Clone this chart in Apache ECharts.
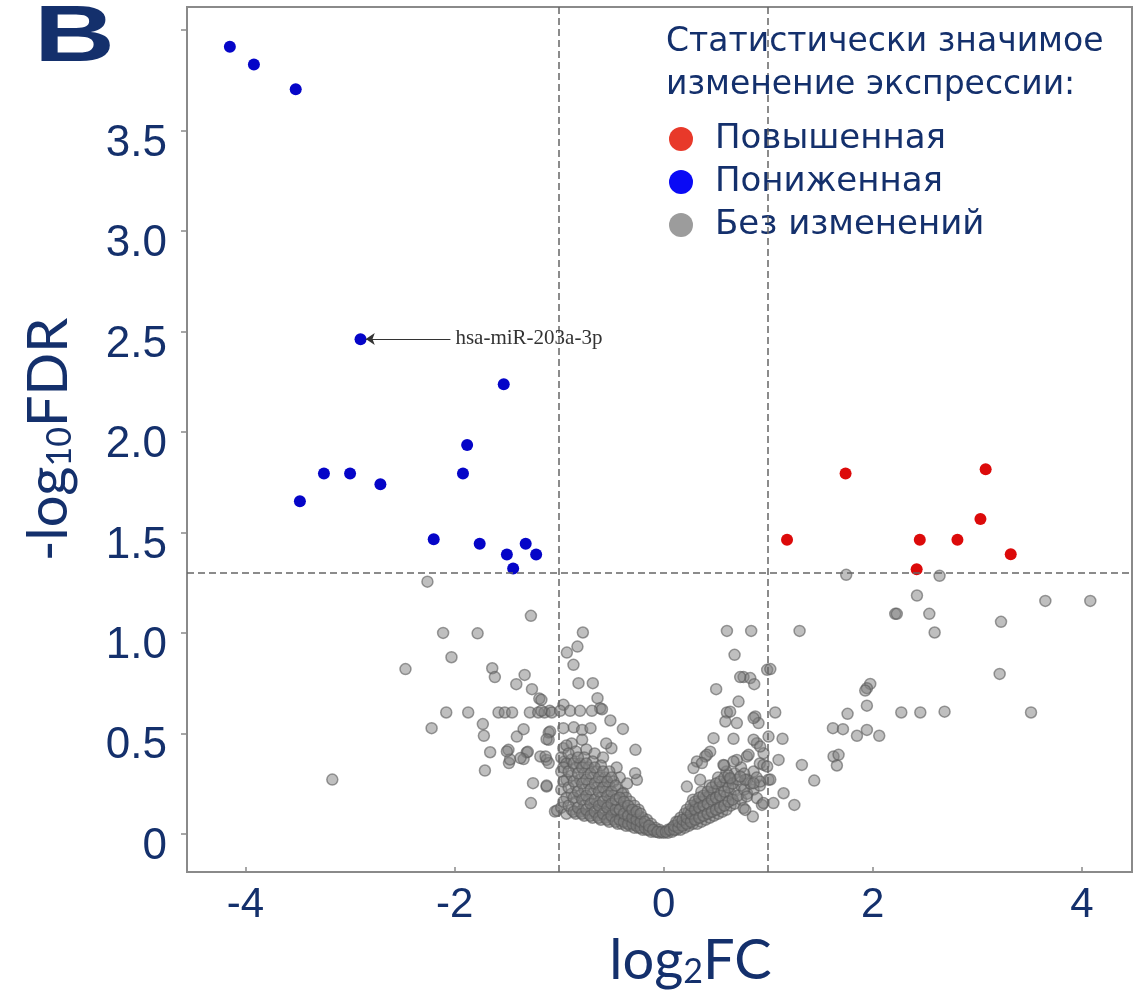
<!DOCTYPE html>
<html>
<head>
<meta charset="utf-8">
<script src="https://cdn.jsdelivr.net/npm/echarts@6/dist/echarts.min.js"></script>
<style>
html, body { margin: 0; padding: 0; background: #fff; }
#main { width: 1146px; height: 1002px; }
</style>
</head>
<body>
<div id="main"></div>
<script>
// [log2FC, -log10FDR]
var upRegulated = [
	[1.74, 1.793], [3.08, 1.814], [3.03, 1.567], [1.18, 1.464], [2.45, 1.464],
	[2.81, 1.464], [3.32, 1.391], [2.42, 1.317]
];
var downRegulated = [
	[-4.15, 3.917], [-3.92, 3.829], [-3.52, 3.706], [-2.90, 2.461], [-1.53, 2.237],
	[-1.88, 1.935], [-3.25, 1.793], [-3.00, 1.793], [-1.92, 1.793], [-2.71, 1.740],
	[-3.48, 1.655], [-2.20, 1.466], [-1.76, 1.444], [-1.32, 1.444], [-1.50, 1.390],
	[-1.22, 1.390], [-1.44, 1.320]
];
var notChanged = [
	// left side, log2FC < -1
	[-3.17, 0.27], [-2.47, 0.82], [-2.26, 1.255], [-2.22, 0.526], [-2.11, 1.0],
	[-2.03, 0.879], [-2.08, 0.604], [-1.87, 0.604], [-1.78, 0.998], [-1.73, 0.546],
	[-1.72, 0.488], [-1.71, 0.315], [-1.66, 0.406], [-1.64, 0.824], [-1.615, 0.78],
	[-1.58, 0.604], [-1.52, 0.604], [-1.45, 0.604], [-1.485, 0.418], [-1.48, 0.352],
	[-1.47, 0.37], [-1.41, 0.745], [-1.405, 0.484], [-1.34, 0.521], [-1.33, 0.791],
	[-1.31, 0.405], [-1.34, 0.372], [-1.30, 0.408], [-1.28, 0.604], [-1.27, 1.085],
	[-1.26, 0.72], [-1.25, 0.252], [-1.27, 0.153], [-1.20, 0.604], [-1.19, 0.673],
	[-1.18, 0.385], [-1.14, 0.604], [-1.12, 0.235], [-1.12, 0.368], [-1.10, 0.468],
	[-1.10, 0.504], [-1.10, 0.352], [-1.09, 0.612], [-1.086, 0.509], [-1.07, 0.604],
	[-1.17, 0.612], [-1.17, 0.667], [-1.13, 0.385], [-1.12, 0.471], [-1.12, 0.24],
	[-1.04, 0.111], [-1.02, 0.116], [-1.37, 0.377], [-1.50, 0.41],
	// -1 .. 0, sparse upper part
	[-0.825, 0.932], [-0.926, 0.902], [-0.773, 1.002], [-0.863, 0.841], [-0.815, 0.75],
	[-0.678, 0.75], [-0.633, 0.675], [-0.959, 0.642], [-0.608, 0.625], [-0.99, 0.612],
	[-0.895, 0.612], [-0.80, 0.612], [-0.687, 0.612], [-0.59, 0.62], [-0.51, 0.564],
	[-0.39, 0.522], [-0.96, 0.526], [-0.86, 0.53], [-0.78, 0.517], [-0.70, 0.526],
	[-0.78, 0.468], [-0.27, 0.418], [-0.50, 0.426], [-0.96, 0.426], [-0.256, 0.269],
	[-0.273, 0.302], [-0.387, 0.204], [-0.95, 0.36], [-0.88, 0.45], [-0.74, 0.42],
	[-0.66, 0.40], [-0.58, 0.38], [-0.55, 0.45], [-0.45, 0.33], [-0.42, 0.28],
	[-0.35, 0.25],
	// -1 .. 0, dense arm
	[-0.98, 0.13], [-0.98, 0.22], [-0.98, 0.31], [-0.98, 0.38],
	[-0.93, 0.10], [-0.93, 0.18], [-0.93, 0.27], [-0.93, 0.35], [-0.93, 0.44],
	[-0.88, 0.12], [-0.88, 0.20], [-0.88, 0.29], [-0.88, 0.37],
	[-0.84, 0.10], [-0.84, 0.16], [-0.84, 0.24], [-0.84, 0.33], [-0.84, 0.41],
	[-0.80, 0.11], [-0.80, 0.19], [-0.80, 0.27], [-0.80, 0.35],
	[-0.76, 0.09], [-0.76, 0.14], [-0.76, 0.22], [-0.76, 0.30], [-0.76, 0.38],
	[-0.72, 0.10], [-0.72, 0.17], [-0.72, 0.25], [-0.72, 0.33],
	[-0.68, 0.08], [-0.68, 0.13], [-0.68, 0.20], [-0.68, 0.28], [-0.68, 0.36],
	[-0.64, 0.09], [-0.64, 0.15], [-0.64, 0.23], [-0.64, 0.31],
	[-0.60, 0.07], [-0.60, 0.12], [-0.60, 0.18], [-0.60, 0.26], [-0.60, 0.34],
	[-0.56, 0.08], [-0.56, 0.14], [-0.56, 0.21], [-0.56, 0.28],
	[-0.52, 0.06], [-0.52, 0.11], [-0.52, 0.17], [-0.52, 0.24], [-0.52, 0.31],
	[-0.48, 0.07], [-0.48, 0.12], [-0.48, 0.19], [-0.48, 0.26],
	[-0.44, 0.05], [-0.44, 0.10], [-0.44, 0.15], [-0.44, 0.22],
	[-0.40, 0.05], [-0.40, 0.09], [-0.40, 0.14], [-0.40, 0.20],
	[-0.36, 0.04], [-0.36, 0.08], [-0.36, 0.13], [-0.36, 0.18],
	[-0.32, 0.04], [-0.32, 0.07], [-0.32, 0.11], [-0.32, 0.16],
	[-0.28, 0.03], [-0.28, 0.06], [-0.28, 0.10], [-0.28, 0.14],
	[-0.24, 0.03], [-0.24, 0.05], [-0.24, 0.09], [-0.24, 0.12],
	[-0.20, 0.02], [-0.20, 0.05], [-0.20, 0.08],
	[-0.16, 0.02], [-0.16, 0.04], [-0.16, 0.07],
	[-0.12, 0.01], [-0.12, 0.03], [-0.12, 0.05],
	[-0.08, 0.01], [-0.08, 0.03], [-0.04, 0.005], [-0.04, 0.02], [0.0, 0.005],
	// -1 .. 0, dense arm, in between
	[-0.96, 0.16], [-0.96, 0.26], [-0.96, 0.33],
	[-0.91, 0.14], [-0.91, 0.23], [-0.91, 0.31], [-0.91, 0.40],
	[-0.86, 0.11], [-0.86, 0.18], [-0.86, 0.26], [-0.86, 0.35],
	[-0.82, 0.13], [-0.82, 0.21], [-0.82, 0.30], [-0.82, 0.38],
	[-0.78, 0.10], [-0.78, 0.17], [-0.78, 0.25], [-0.78, 0.33],
	[-0.74, 0.12], [-0.74, 0.19], [-0.74, 0.27], [-0.74, 0.35],
	[-0.70, 0.09], [-0.70, 0.15], [-0.70, 0.22], [-0.70, 0.30],
	[-0.66, 0.11], [-0.66, 0.17], [-0.66, 0.25], [-0.66, 0.33],
	[-0.62, 0.08], [-0.62, 0.14], [-0.62, 0.21], [-0.62, 0.28],
	[-0.58, 0.10], [-0.58, 0.16], [-0.58, 0.23], [-0.58, 0.31],
	[-0.54, 0.07], [-0.54, 0.13], [-0.54, 0.19], [-0.54, 0.26],
	[-0.50, 0.09], [-0.50, 0.15], [-0.50, 0.21], [-0.50, 0.28],
	[-0.46, 0.06], [-0.46, 0.12], [-0.46, 0.17], [-0.46, 0.24],
	[-0.42, 0.07], [-0.42, 0.12], [-0.42, 0.18],
	[-0.38, 0.06], [-0.38, 0.10], [-0.38, 0.16],
	[-0.34, 0.05], [-0.34, 0.09], [-0.34, 0.14],
	[-0.30, 0.05], [-0.30, 0.08], [-0.30, 0.12],
	[-0.26, 0.04], [-0.26, 0.07], [-0.26, 0.11],
	[-0.22, 0.03], [-0.22, 0.06], [-0.22, 0.10],
	[-0.18, 0.03], [-0.18, 0.06], [-0.14, 0.02], [-0.14, 0.04],
	[-0.10, 0.02], [-0.06, 0.01], [-0.02, 0.01],
	// 0 .. 1, dense arm
	[0.04, 0.005], [0.04, 0.02], [0.08, 0.01], [0.08, 0.03],
	[0.12, 0.02], [0.12, 0.04], [0.12, 0.06],
	[0.16, 0.02], [0.16, 0.05], [0.16, 0.08],
	[0.20, 0.03], [0.20, 0.06], [0.20, 0.10],
	[0.24, 0.04], [0.24, 0.07], [0.24, 0.11],
	[0.28, 0.05], [0.28, 0.09], [0.28, 0.13], [0.28, 0.17],
	[0.32, 0.05], [0.32, 0.10], [0.32, 0.15],
	[0.36, 0.06], [0.36, 0.11], [0.36, 0.16], [0.36, 0.21],
	[0.40, 0.07], [0.40, 0.12], [0.40, 0.18],
	[0.44, 0.08], [0.44, 0.13], [0.44, 0.19], [0.44, 0.24],
	[0.48, 0.09], [0.48, 0.15], [0.48, 0.21],
	[0.52, 0.10], [0.52, 0.16], [0.52, 0.22], [0.52, 0.28],
	[0.56, 0.11], [0.56, 0.17], [0.56, 0.24],
	[0.60, 0.12], [0.60, 0.19], [0.60, 0.26], [0.60, 0.31],
	[0.64, 0.14], [0.64, 0.20], [0.64, 0.27],
	[0.68, 0.15], [0.68, 0.22], [0.68, 0.30],
	[0.74, 0.17], [0.74, 0.24], [0.74, 0.33],
	[0.80, 0.20], [0.80, 0.27], [0.86, 0.22], [0.86, 0.31],
	[0.92, 0.24], [0.92, 0.35],
	// 0 .. 1, dense arm, in between
	[0.02, 0.01], [0.06, 0.02], [0.10, 0.02], [0.10, 0.04], [0.14, 0.03], [0.14, 0.06],
	[0.18, 0.04], [0.18, 0.07], [0.22, 0.05], [0.22, 0.08], [0.22, 0.12],
	[0.26, 0.06], [0.26, 0.10], [0.26, 0.14], [0.30, 0.07], [0.30, 0.12], [0.30, 0.16],
	[0.34, 0.08], [0.34, 0.13], [0.34, 0.18], [0.38, 0.09], [0.38, 0.14], [0.38, 0.19],
	[0.42, 0.10], [0.42, 0.15], [0.42, 0.21], [0.46, 0.11], [0.46, 0.17], [0.46, 0.23],
	[0.50, 0.12], [0.50, 0.18], [0.50, 0.25], [0.54, 0.13], [0.54, 0.19], [0.54, 0.26],
	[0.58, 0.14], [0.58, 0.21], [0.58, 0.28], [0.62, 0.16], [0.62, 0.23], [0.62, 0.29],
	[0.66, 0.17], [0.66, 0.25], [0.71, 0.19], [0.71, 0.27], [0.77, 0.22], [0.77, 0.30],
	[0.83, 0.25], [0.89, 0.28],
	// 0 .. 1.5, sparse
	[0.605, 1.01], [0.837, 1.01], [1.30, 1.01], [0.678, 0.891], [0.99, 0.816],
	[1.02, 0.82], [0.764, 0.78], [0.828, 0.775], [0.866, 0.745], [0.732, 0.78],
	[0.502, 0.72], [0.716, 0.658], [0.605, 0.604], [0.636, 0.608], [0.70, 0.551],
	[0.59, 0.559], [0.876, 0.584], [0.907, 0.551], [1.067, 0.604], [0.477, 0.476],
	[0.668, 0.473], [0.892, 0.451], [1.003, 0.484], [1.137, 0.473], [0.445, 0.409],
	[0.397, 0.385], [0.318, 0.36], [0.285, 0.327], [0.579, 0.34], [0.70, 0.368],
	[0.796, 0.385], [0.955, 0.401], [0.955, 0.343], [1.099, 0.368], [1.322, 0.343],
	[1.44, 0.265], [1.147, 0.202], [1.25, 0.144], [0.636, 0.277], [0.78, 0.269],
	[0.923, 0.26], [1.003, 0.269], [0.222, 0.235], [0.349, 0.269], [0.796, 0.186],
	[0.892, 0.178], [0.94, 0.144], [1.05, 0.153], [0.853, 0.086], [0.764, 0.128],
	[0.86, 0.468], [0.923, 0.434], [0.413, 0.393], [0.366, 0.352], [0.572, 0.343],
	[0.668, 0.36], [0.812, 0.393], [0.732, 0.285], [0.86, 0.252], [0.955, 0.153],
	[0.78, 0.119], [0.86, 0.576], [1.02, 0.27], [0.99, 0.335],
	// right side, log2FC > 1.5
	[1.746, 1.289], [2.639, 1.284], [2.423, 1.186], [2.215, 1.095], [2.23, 1.095],
	[2.541, 1.095], [2.592, 1.002], [3.227, 1.055], [3.651, 1.159], [4.081, 1.159],
	[3.214, 0.796], [1.976, 0.746], [1.944, 0.725], [1.928, 0.713], [1.944, 0.638],
	[1.759, 0.597], [2.273, 0.604], [2.455, 0.604], [2.687, 0.608], [3.514, 0.604],
	[1.619, 0.526], [1.715, 0.521], [1.849, 0.488], [1.944, 0.517], [2.062, 0.488],
	[1.625, 0.385], [1.673, 0.393], [1.657, 0.34]
];
var xTickValues = [-4, -2, 0, 2, 4];
var yTickValues = [0, 0.5, 1, 1.5, 2, 2.5, 3, 3.5, 4];
var yLabelValues = [0, 0.5, 1, 1.5, 2, 2.5, 3, 3.5];
var fcCutoff = [-1, 1];
var fdrCutoff = 1.301;
var legendNames = ['Повышенная', 'Пониженная', 'Без изменений'];

var navy = '#14306c';
var myChart = echarts.init(document.getElementById('main'));
var option = {
	backgroundColor: '#fff',
	animation: false,
	graphic: [{
		type: 'text',
		x: 34,
		y: -1,
		scaleX: 1.4,
		style: { text: 'B', fill: navy, fontSize: 80, fontWeight: 'bold', fontFamily: 'Liberation Sans', verticalAlign: 'top' }
	}],
	title: [{
		text: 'Статистически значимое\nизменение экспрессии:',
		left: 661,
		top: 16,
		textStyle: { fontSize: 33, fontWeight: 'normal', color: navy, fontFamily: 'DejaVu Sans', lineHeight: 43 }
	}],
	legend: {
		orient: 'vertical',
		left: 664,
		top: 117,
		itemWidth: 58,
		itemHeight: 24,
		itemGap: 9,
		icon: 'circle',
		textStyle: { fontSize: 34, color: navy, fontFamily: 'DejaVu Sans', lineHeight: 29 },
		data: [
			{ name: legendNames[0], itemStyle: { color: '#e8392a', borderWidth: 0, opacity: 1 } },
			{ name: legendNames[1], itemStyle: { color: '#0a0af5', borderWidth: 0, opacity: 1 } },
			{ name: legendNames[2], itemStyle: { color: '#9c9c9c', borderWidth: 0, opacity: 1 } }
		]
	},
	grid: {
		left: 187, right: 14, top: 7, bottom: 130,
		show: true, borderColor: '#8a8a8a', borderWidth: 2, backgroundColor: '#fff'
	},
	xAxis: {
		type: 'value',
		min: -4.56,
		max: 4.48,
		axisLine: { show: false, onZero: false },
		splitLine: { show: false },
		axisTick: { show: true, inside: true, length: 5, customValues: xTickValues, lineStyle: { color: '#8a8a8a', width: 1.5 } },
		axisLabel: { customValues: xTickValues, fontSize: 42, color: navy, margin: 12, fontFamily: 'Liberation Sans' },
		name: 'log{sub|2}FC',
		nameLocation: 'middle',
		nameGap: 61,
		nameTextStyle: {
			fontSize: 56, color: navy, fontFamily: 'Liberation Sans Narrow, Lato, sans-serif', padding: [0, 0, 0, 62],
			rich: { sub: { fontSize: 34, color: navy, fontFamily: 'Liberation Sans Narrow, Lato, sans-serif', verticalAlign: 'bottom', padding: [18, 0, 0, 0] } }
		}
	},
	yAxis: {
		type: 'value',
		min: -0.19,
		max: 4.115,
		axisLine: { show: false, onZero: false },
		splitLine: { show: false },
		axisTick: { show: true, inside: false, length: 6, customValues: yTickValues, lineStyle: { color: '#8a8a8a', width: 1.5 } },
		axisLabel: {
			customValues: yLabelValues, margin: 20,
			formatter: function (v) { return '{a|' + (v === 0 ? '0' : v.toFixed(1)) + '}'; },
			rich: { a: { fontSize: 44, color: navy, fontFamily: 'Liberation Sans', padding: [26, 0, 0, 0] } }
		},
		name: '-log{sub|10}FDR',
		nameLocation: 'middle',
		nameGap: 110,
		nameRotate: 90,
		nameTextStyle: {
			fontSize: 56, color: navy, fontFamily: 'Liberation Sans Narrow, Lato, sans-serif',
			rich: { sub: { fontSize: 34, color: navy, fontFamily: 'Liberation Sans Narrow, Lato, sans-serif', verticalAlign: 'bottom', padding: [18, 0, 0, 0] } }
		}
	},
	series: [{
		name: legendNames[2],
		type: 'scatter',
		data: notChanged,
		symbolSize: 11,
		z: 2,
		itemStyle: { color: 'rgba(128,128,128,0.5)', borderColor: 'rgba(90,90,90,0.6)', borderWidth: 1.5, opacity: 1 },
		markLine: {
			silent: true,
			symbol: 'none',
			label: { show: false },
			lineStyle: { color: '#666', width: 1.5, type: [7, 4] },
			data: [{ xAxis: fcCutoff[0] }, { xAxis: fcCutoff[1] }, { yAxis: fdrCutoff }]
		}
	}, {
		name: legendNames[1],
		type: 'scatter',
		data: downRegulated,
		symbolSize: 12,
		z: 4,
		itemStyle: { color: '#0505c8', opacity: 1 },
		markLine: {
			silent: true,
			symbol: ['none', 'arrow'],
			symbolSize: 9,
			lineStyle: { color: '#333', width: 1.2, type: 'solid' },
			label: {
				show: true, position: 'start', formatter: 'hsa-miR-203a-3p',
				fontFamily: 'Liberation Serif', fontSize: 21, color: '#333'
			},
			data: [[{ coord: [-2.04, 2.463] }, { coord: [-2.85, 2.463] }]]
		}
	}, {
		name: legendNames[0],
		type: 'scatter',
		data: upRegulated,
		symbolSize: 12,
		z: 4,
		itemStyle: { color: '#dc0a0a', opacity: 1 }
	}]
};
myChart.setOption(option);
</script>
</body>
</html>
